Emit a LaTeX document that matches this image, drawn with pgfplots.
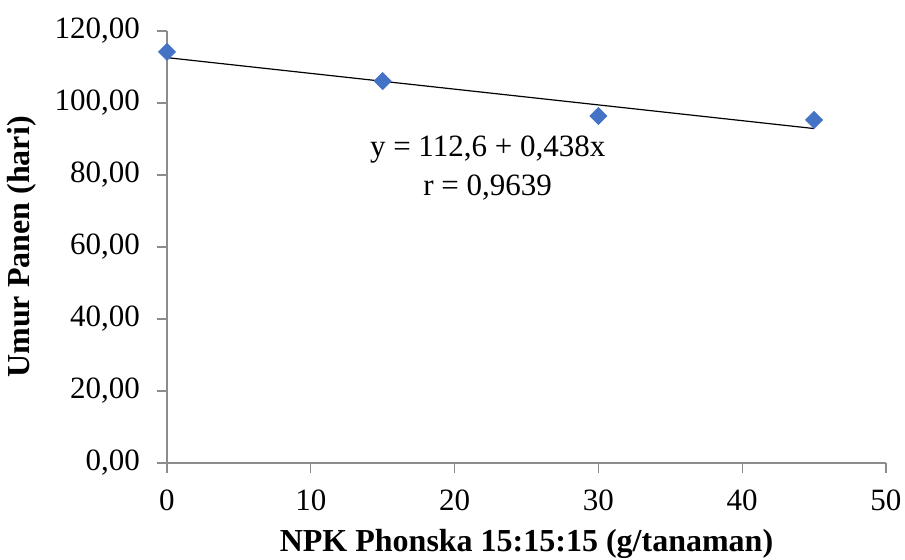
\documentclass[border=0pt]{standalone}
\usepackage{pgfplots}
\pgfplotsset{compat=1.18}
\usepackage{fontspec}
\setmainfont{Liberation Serif}

\definecolor{excelblue}{HTML}{4472C4}
\definecolor{axisgray}{HTML}{8C8C8C}

\begin{document}
\begin{tikzpicture}
\begin{axis}[
    scale only axis,
    width=359.5pt, height=216pt,
    xmin=0, xmax=50,
    ymin=0, ymax=120,
    xtick={0,10,...,50},
    ytick={0,20,...,120},
    axis x line=bottom,
    axis y line=left,
    axis line style={-, draw=axisgray, line width=0.6pt},
    tick style={draw=axisgray, line width=0.6pt},
    tick align=outside,
    major tick length=5pt,
    ticklabel style={font=\fontsize{15.5}{18}\selectfont},
    /pgf/number format/assume math mode=true,
    yticklabel style={/pgf/number format/fixed,
                      /pgf/number format/fixed zerofill,
                      /pgf/number format/precision=2,
                      /pgf/number format/use comma,
                      xshift=-5pt},
    xticklabel style={yshift=-5pt},
    xlabel={\textbf{NPK Phonska 15:15:15 (g/tanaman)}},
    ylabel={\textbf{Umur Panen (hari)}},
    xlabel style={font=\fontsize{16}{19}\selectfont, yshift=-2.5pt},
    ylabel style={font=\fontsize{16}{19}\selectfont, yshift=2.5pt},
    clip=false,
  ]

  % data
  \addplot[only marks, mark=square*, mark size=3pt,
           mark options={rotate=45, fill=excelblue, draw=excelblue}]
  coordinates {
      (0, 114.2) (15, 106.1) (30, 96.4) (45, 95.3)
    };

  % linear trendline
  \addplot[black, line width=0.6pt]
  coordinates {
      (0, 112.6) (45, 92.9)
    };

  \node[anchor=base, font=\fontsize{15.5}{18}\selectfont] at (axis cs:22.3,85) {y = 112,6 + 0,438x};
  \node[anchor=base, font=\fontsize{15.5}{18}\selectfont] at (axis cs:22.3,74.4) {r = 0,9639};

\end{axis}
\pgfresetboundingbox
\path[use as bounding box] (-83.5pt,-48.5pt) rectangle (369pt,231.5pt);
\end{tikzpicture}
\end{document}
